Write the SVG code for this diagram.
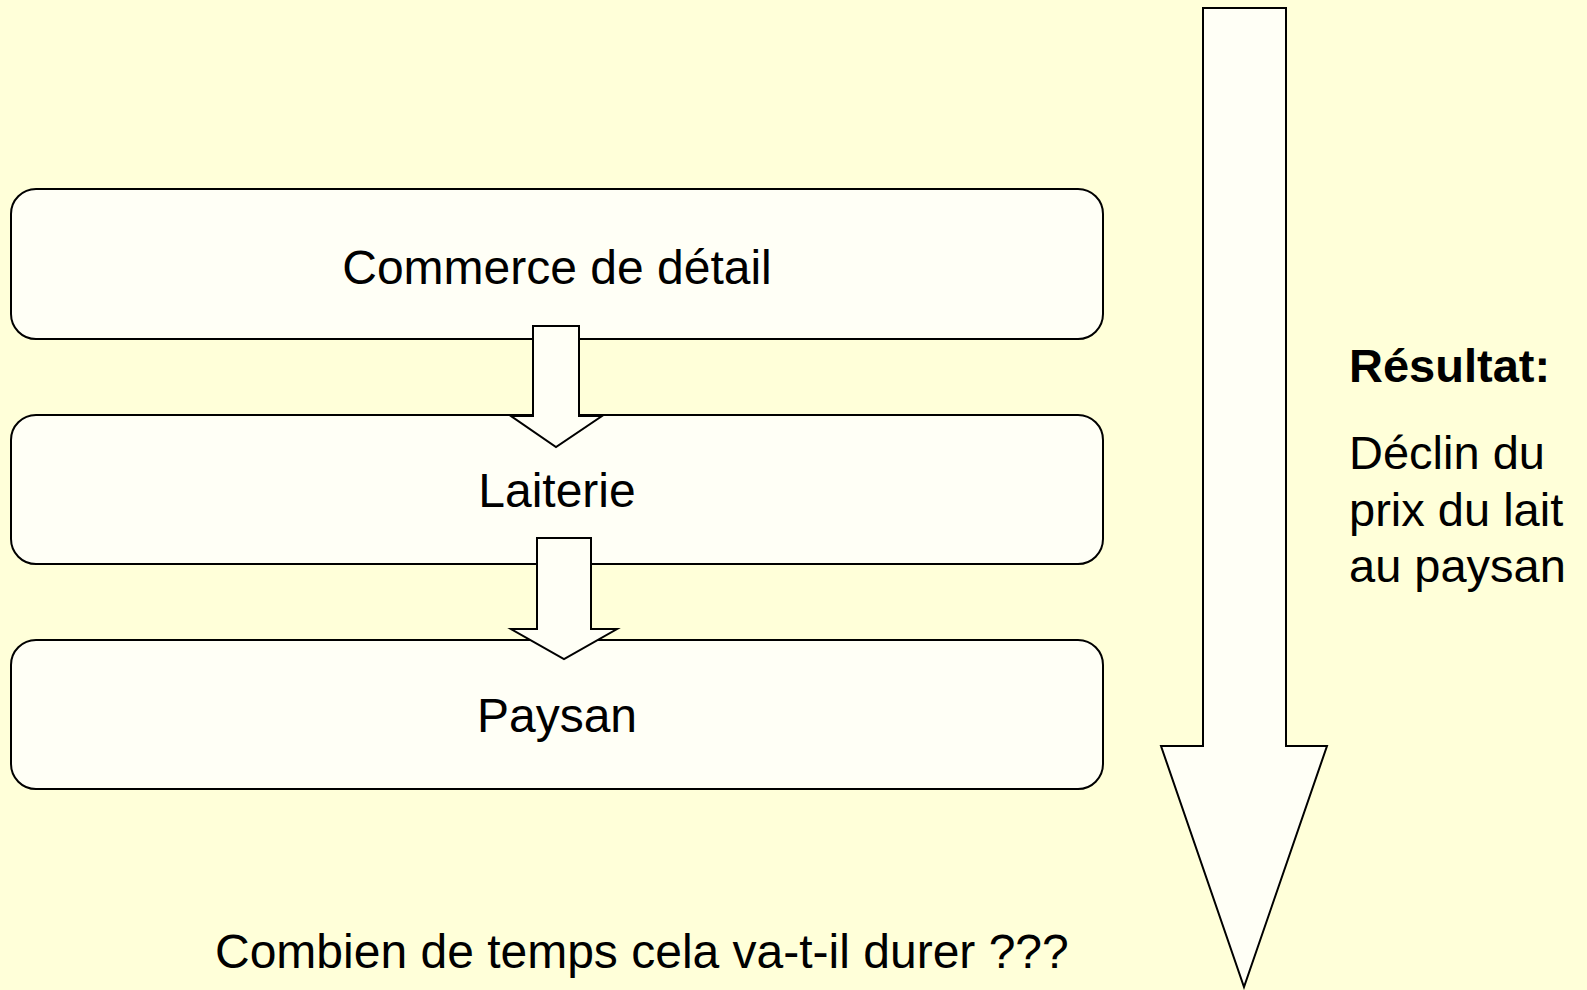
<svg xmlns="http://www.w3.org/2000/svg" width="1587" height="990" viewBox="0 0 1587 990">
<style>
.box{fill:#FFFFF6;stroke:#000;stroke-width:2}
.arr{fill:#FFFFF6;stroke:#000;stroke-width:2;stroke-linejoin:miter}
.t{font-family:"Liberation Sans",Arial,sans-serif;font-size:48px;fill:#000}
.c{text-anchor:middle}
.r{font-size:47px}
.b{font-weight:bold}
</style>
<rect width="1587" height="990" fill="#FFFFD9"/>
<g id="node-commerce">
<rect class="box" x="11" y="189" width="1092" height="150" rx="25" ry="25"/>
<text class="t c" x="557" y="284">Commerce de détail</text>
</g>
<g id="node-laiterie">
<rect class="box" x="11" y="415" width="1092" height="149" rx="25" ry="25"/>
<text class="t c" x="557" y="507">Laiterie</text>
</g>
<g id="node-paysan">
<rect class="box" x="11" y="640" width="1092" height="149" rx="25" ry="25"/>
<text class="t c" x="557" y="732">Paysan</text>
</g>
<g id="connectors">
<polygon class="arr" points="533,326 579,326 579,416 602,416 556,447 511,416 533,416"/>
<polygon class="arr" points="537,538 591,538 591,629 617,629 564,659 511,629 537,629"/>
<polygon class="arr" points="1203,8 1286,8 1286,746 1327,746 1244,987 1161,746 1203,746"/>
</g>
<g id="result">
<text class="t b" x="1349" y="382" style="font-size:47px">Résultat:</text>
<text class="t r" x="1349" y="469">Déclin du</text>
<text class="t r" x="1349" y="526">prix du lait</text>
<text class="t r" x="1349" y="582">au paysan</text>
</g>
<text class="t" x="215" y="968">Combien de temps cela va-t-il durer ???</text>
</svg>
